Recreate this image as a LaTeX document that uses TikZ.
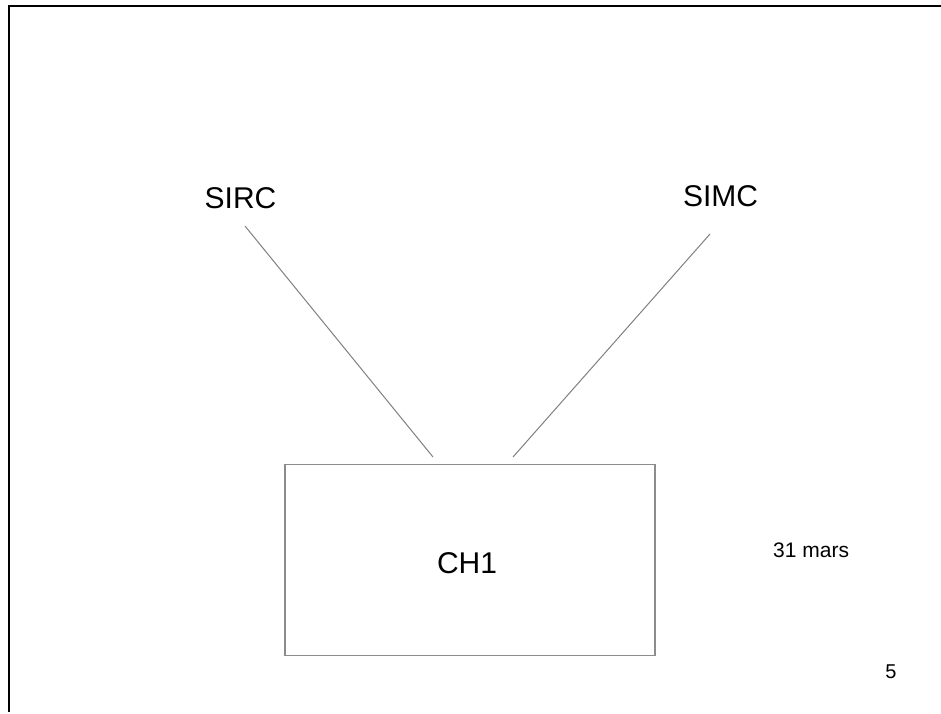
\documentclass[tikz,border=0pt]{standalone}
\usepackage{fontspec}
\setmainfont{Liberation Sans}
\begin{document}
\begin{tikzpicture}[x=1pt,y=-1pt,
  lbl/.style={font=\fontsize{30}{33}\selectfont, inner sep=0pt, anchor=base, text=black},
  small/.style={font=\fontsize{21}{24}\selectfont, inner sep=0pt, anchor=base, text=black},
  conn/.style={draw=black!50, line width=1pt},
  boxst/.style={draw=black!45, line width=1.5pt}]
\useasboundingbox (0,0) rectangle (941,713);
\fill[white] (0,0) rectangle (941,713);
% frame
\draw[line width=2pt, black] (9,712) -- (9,6) -- (941,6);
% labels
\node[lbl] (sirc) at (240.5,208) {SIRC};
\node[lbl] (simc) at (720.5,206) {SIMC};
% box
\node[boxst, minimum width=370pt, minimum height=191pt, inner sep=0pt] (ch1box) at (470,560) {};
\node[lbl] (ch1) at (467,573) {CH1};
\node[small, anchor=base west] (date) at (773,557) {31 mars};
\node[small, font=\fontsize{20}{24}\selectfont] (page) at (891,678) {5};
% connector endpoints
\coordinate (a1) at (245,226);
\coordinate (a2) at (433,457);
\coordinate (b1) at (710,234);
\coordinate (b2) at (513,457);
\draw[conn] (a1) -- (a2);
\draw[conn] (b1) -- (b2);
\end{tikzpicture}
\end{document}
